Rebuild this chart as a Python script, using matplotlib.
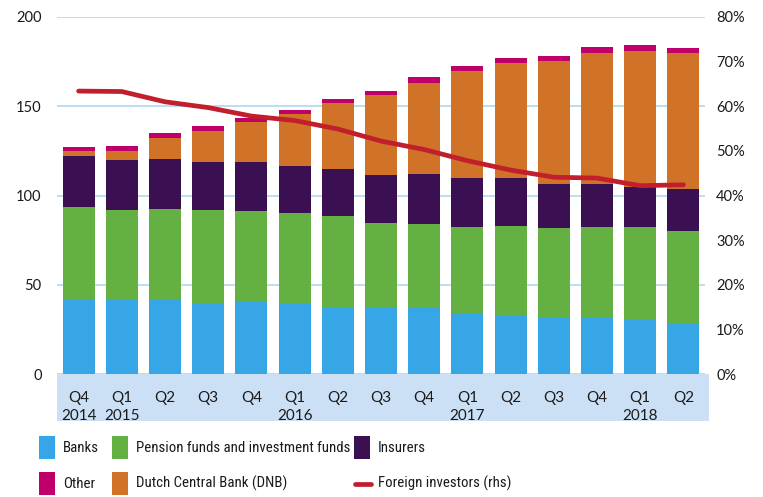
import matplotlib
matplotlib.use("Agg")
import matplotlib.pyplot as plt
from matplotlib.patches import Rectangle
from matplotlib.lines import Line2D
import numpy as np

quarters = ["Q4\n2014", "Q1\n2015", "Q2", "Q3", "Q4", "Q1\n2016", "Q2", "Q3", "Q4",
            "Q1\n2017", "Q2", "Q3", "Q4", "Q1\n2018", "Q2"]
banks = [42.0, 42.0, 41.6, 39.8, 40.9, 39.8, 37.5, 37.5, 37.1, 33.8, 32.7, 31.9, 31.5, 30.8, 28.6]
pension = [51.5, 49.8, 50.8, 52.0, 50.4, 50.3, 51.0, 47.0, 46.9, 48.5, 50.2, 49.8, 50.8, 51.5, 51.5]
insurers = [28.5, 28.0, 28.0, 26.9, 27.4, 26.4, 26.3, 26.9, 28.0, 27.4, 26.8, 24.7, 24.1, 22.5, 23.5]
dnb = [2.9, 5.1, 11.6, 17.3, 22.3, 29.1, 36.9, 44.8, 51.0, 60.0, 64.3, 68.9, 73.3, 76.0, 76.1]
other = [2.1, 2.8, 3.0, 2.9, 2.3, 2.2, 2.3, 2.3, 3.3, 2.8, 3.0, 2.7, 3.3, 3.4, 2.8]
foreign = [63.4, 63.3, 61.0, 59.7, 57.8, 56.8, 54.9, 52.2, 50.3, 47.8, 45.7, 44.1, 43.9, 42.2, 42.4]

left_ticks = [0, 50, 100, 150, 200]
right_ticks = [0, 10, 20, 30, 40, 50, 60, 70, 80]

c_banks = "#36A6E6"
c_pension = "#65B042"
c_ins = "#3A1053"
c_dnb = "#D07328"
c_other = "#C0006A"
c_line = "#C11F2B"
c_grid = "#BDDCF2"
c_band = "#CCE0F5"
txt = "#1a1a1a"

W, H = 763, 497
fig = plt.figure(figsize=(W / 100, H / 100), dpi=100)
plt.rcParams["font.family"] = ["Lato", "DejaVu Sans"]
LEG_FAMILY = ["Roboto Condensed", "Lato", "DejaVu Sans"]

def fx(px):
    return px / W

def fy(py):
    return 1 - py / H

ax_l, ax_r, ax_t, ax_b = 57, 705, 17, 374
ax = fig.add_axes([fx(ax_l), fy(ax_b), (ax_r - ax_l) / W, (ax_b - ax_t) / H])
ax.set_facecolor("none")

x = np.arange(len(quarters))
bw = 0.74
b0 = np.zeros(len(x))
for vals, col in [(banks, c_banks), (pension, c_pension), (insurers, c_ins), (dnb, c_dnb), (other, c_other)]:
    ax.bar(x, vals, bw, bottom=b0, color=col, zorder=2, linewidth=0)
    b0 = b0 + np.array(vals)

ax.set_xlim(-0.5, len(x) - 0.5)
ax.set_ylim(0, 200)
ax.set_yticks(left_ticks)
ax.yaxis.grid(True, color=c_grid, linewidth=1.4, zorder=0)
ax.set_axisbelow(True)
for s in ax.spines.values():
    s.set_visible(False)
ax.tick_params(axis="y", length=0, pad=11, labelsize=10.5, labelcolor=txt)
ax.set_xticks(x)
ax.set_xticklabels(quarters, fontsize=11, color=txt, linespacing=1.3)
ax.tick_params(axis="x", length=0, pad=12.5)

ax2 = ax.twinx()
ax2.plot(x, foreign, color=c_line, linewidth=3.4, solid_capstyle="round", solid_joinstyle="round", zorder=5)
ax2.set_ylim(0, 80)
ax2.set_yticks(right_ticks)
ax2.set_yticklabels([f"{t}%" for t in right_ticks])
ax2.tick_params(axis="y", length=0, pad=8, labelsize=10.5, labelcolor=txt)
for s in ax2.spines.values():
    s.set_visible(False)

# band behind x labels
fig.add_artist(Rectangle((fx(57), fy(421)), (709 - 57) / W, (421 - 374) / H,
                         transform=fig.transFigure, facecolor=c_band, edgecolor="none", zorder=-1))

# legend
LF = 10.7
def patch(px, py, col):
    fig.add_artist(Rectangle((fx(px), fy(py + 23)), 16 / W, 23 / H, transform=fig.transFigure,
                             facecolor=col, edgecolor="none"))

def label(px, py, s):
    fig.text(fx(px), fy(py), s, fontsize=LF, color=txt, va="center", ha="left",
             family=LEG_FAMILY)

r1, r2 = 436, 472
patch(39, r1, c_banks); label(63, r1 + 11.5, "Banks")
patch(112, r1, c_pension); label(136, r1 + 11.5, "Pension funds and investment funds")
patch(354, r1, c_ins); label(378, r1 + 11.5, "Insurers")
patch(39, r2, c_other); label(63, r2 + 11.5, "Other")
patch(112, r2, c_dnb); label(136, r2 + 11.5, "Dutch Central Bank (DNB)")
fig.add_artist(Line2D([fx(355), fx(371)], [fy(r2 + 11.5)] * 2, transform=fig.transFigure,
                      color=c_line, linewidth=3.4, solid_capstyle="round"))
label(378, r2 + 11.5, "Foreign investors (rhs)")

fig.savefig("out.png", dpi=100)
